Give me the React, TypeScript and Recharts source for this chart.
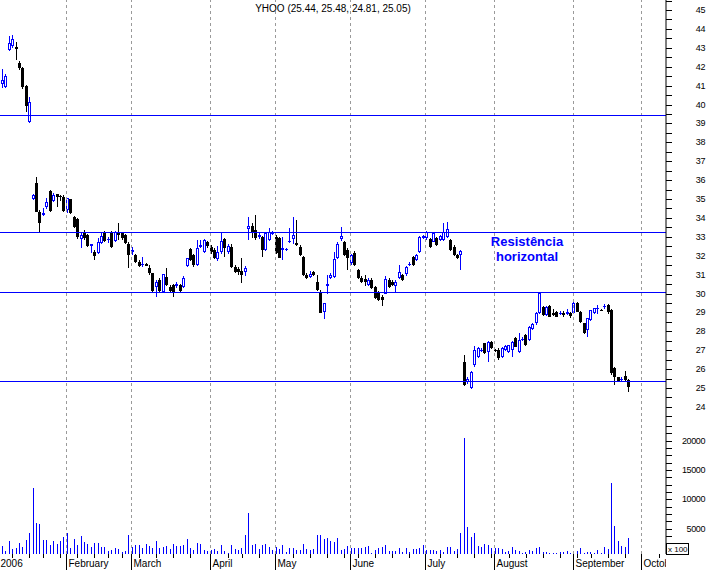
import React from "react";
import { ComposedChart, Bar, XAxis, YAxis, ReferenceLine } from "recharts";

// YHOO daily candles, Jan 3 - Sep 26 2006 (index = trading day)
const opens = [
  39.7, 41.1, 40.95, 42.9, 43.11, 43.06, 42.21, 41.95, 40.98, 39.09,
  34.98, 35.83, 34.33, 34.15, 34.56, 35.44, 34.91, 35.25, 35.18, 35.12,
  34.42, 34.98, 34.03, 33.92, 32.9, 33.27, 33.1, 32.5, 32.21, 32.16,
  32.65, 33.27, 32.82, 33.22, 32.78, 33.27, 33.18, 33.1, 32.62, 32.22,
  32.04, 31.68, 31.5, 31.56, 31.33, 31.07, 30.36, 30.71, 30.1, 30.89,
  30.36, 30.45, 30.4, 30.45, 30.36, 31.45, 32.34, 32.04, 31.5, 32.45,
  32.21, 32.7, 32.48, 32.3, 31.8, 32.2, 32.9, 32.2, 32.48, 31.42,
  31.3, 31.2, 31.15, 33.41, 33.57, 33.36, 33.0, 33.0, 32.3, 32.83,
  33.15, 33.0, 32.94, 32.3, 32.3, 32.7, 32.87, 32.69, 32.48, 31.95,
  30.98, 30.86, 31.15, 30.63, 30.1, 29.04, 30.4, 30.8, 30.86, 31.9,
  32.87, 32.74, 32.3, 31.6, 32.13, 31.24, 30.8, 30.75, 30.45, 30.71,
  30.36, 30.1, 29.83, 30.0, 30.71, 30.6, 30.4, 30.8, 30.98, 31.03,
  31.5, 31.95, 31.77, 32.21, 32.95, 32.92, 32.87, 32.74, 32.92, 32.85,
  32.83, 33.0, 32.83, 32.48, 32.04, 32.04, 26.39, 25.3, 24.98, 26.22,
  26.66, 26.95, 27.37, 26.92, 27.45, 27.0, 27.01, 26.66, 27.0, 26.92,
  27.01, 27.63, 26.92, 27.55, 27.8, 27.54, 28.1, 28.42, 28.95, 29.3,
  28.86, 29.34, 28.95, 29.04, 28.9, 28.95, 28.9, 28.95, 28.95, 29.48,
  29.04, 28.42, 28.07, 28.6, 28.95, 29.2, 29.15, 29.3, 29.39, 29.13,
  26.04, 25.57, 25.42, 25.63, 25.44,
];
const highs = [
  41.0, 41.9, 41.6, 43.6, 43.7, 43.32, 42.3, 42.0, 41.05, 40.41,
  35.25, 36.18, 34.4, 34.5, 35.04, 35.5, 35.3, 35.28, 35.2, 35.2,
  35.05, 35.0, 34.1, 34.0, 33.18, 33.35, 33.15, 32.62, 32.3, 32.92,
  33.27, 33.3, 33.0, 33.3, 33.33, 33.71, 33.27, 33.15, 32.7, 32.48,
  32.1, 31.75, 31.95, 31.6, 31.5, 31.1, 30.7, 30.8, 31.05, 31.33,
  30.45, 30.5, 30.6, 30.5, 30.93, 31.9, 32.4, 32.1, 32.83, 32.83,
  32.9, 32.8, 32.55, 32.4, 32.5, 33.2, 32.95, 32.6, 32.6, 31.5,
  31.4, 31.86, 31.45, 34.06, 33.71, 34.15, 33.2, 33.05, 33.25, 33.45,
  33.3, 33.1, 33.0, 33.0, 32.4, 33.47, 34.06, 33.9, 32.55, 32.0,
  31.1, 31.2, 31.2, 30.98, 30.2, 29.5, 30.98, 31.1, 32.2, 32.7,
  33.53, 32.8, 32.4, 32.1, 32.25, 31.3, 30.9, 31.0, 30.8, 30.8,
  30.4, 30.15, 29.9, 30.9, 30.8, 30.7, 30.7, 31.5, 31.05, 31.45,
  31.65, 32.0, 32.1, 33.05, 33.1, 33.3, 32.95, 33.2, 33.0, 33.1,
  33.71, 33.8, 32.9, 32.55, 32.1, 32.3, 26.75, 25.6, 25.9, 27.2,
  27.15, 27.1, 27.4, 27.5, 27.5, 27.05, 27.1, 27.15, 27.3, 27.3,
  27.5, 27.7, 27.9, 27.7, 27.85, 28.3, 28.45, 29.0, 30.1, 29.35,
  29.35, 29.4, 29.2, 29.1, 29.05, 29.1, 29.2, 29.0, 29.55, 29.55,
  29.1, 28.45, 28.7, 29.15, 29.25, 29.4, 29.2, 29.45, 29.45, 29.2,
  26.1, 25.6, 25.6, 25.92, 25.48,
];
const lows = [
  39.5, 40.85, 40.85, 42.85, 43.0, 42.35, 41.8, 40.8, 39.62, 39.0,
  34.95, 34.3, 33.27, 34.1, 34.46, 34.33, 34.85, 34.56, 34.9, 34.3,
  34.28, 34.2, 33.45, 32.9, 32.39, 32.85, 32.45, 32.13, 31.77, 32.1,
  32.6, 32.7, 32.69, 32.4, 32.7, 32.83, 32.83, 32.6, 31.37, 32.04,
  31.6, 31.4, 31.42, 31.45, 31.0, 30.1, 29.8, 30.1, 30.05, 30.4,
  30.1, 29.83, 30.3, 30.1, 30.3, 31.4, 31.7, 31.42, 31.45, 32.4,
  32.15, 32.4, 32.1, 31.8, 31.7, 32.1, 31.95, 32.1, 31.35, 31.1,
  31.0, 30.55, 30.9, 32.83, 32.92, 32.85, 32.9, 31.95, 32.25, 32.8,
  33.1, 32.1, 31.88, 31.77, 32.25, 32.65, 32.6, 32.5, 32.0, 30.95,
  30.75, 30.8, 30.95, 30.15, 28.95, 28.63, 29.96, 30.75, 30.8, 31.85,
  32.8, 32.0, 31.24, 31.5, 31.45, 30.75, 30.55, 30.4, 30.4, 30.25,
  29.7, 29.6, 29.34, 29.95, 30.3, 30.4, 30.1, 30.75, 30.65, 30.95,
  31.45, 31.45, 31.7, 32.15, 32.9, 32.85, 32.4, 32.7, 32.5, 32.8,
  32.8, 32.95, 32.25, 32.0, 31.8, 31.24, 25.1, 25.2, 24.95, 26.1,
  26.6, 26.9, 26.8, 26.39, 27.05, 26.9, 26.5, 26.6, 26.95, 26.85,
  26.66, 27.15, 26.85, 27.5, 27.2, 27.5, 28.05, 28.35, 28.9, 28.8,
  28.8, 28.75, 28.8, 28.75, 28.85, 28.75, 28.85, 28.7, 28.9, 29.0,
  28.45, 27.85, 27.7, 28.55, 28.9, 28.9, 29.05, 29.2, 28.9, 25.7,
  25.15, 25.3, 25.3, 25.35, 24.81,
];
const closes = [
  40.9, 41.3, 41.5, 43.27, 43.45, 42.94, 41.91, 40.94, 39.92, 40.13,
  35.21, 34.33, 33.75, 34.25, 34.86, 34.38, 35.21, 35.12, 35.14, 34.38,
  35.03, 34.24, 33.53, 33.0, 33.1, 32.92, 32.51, 32.6, 31.98, 32.74,
  33.04, 32.78, 32.9, 32.45, 33.27, 33.1, 32.92, 32.69, 32.04, 32.3,
  31.68, 31.45, 31.58, 31.48, 31.07, 30.15, 30.63, 30.15, 31.02, 30.45,
  30.15, 30.1, 30.5, 30.15, 30.8, 31.86, 31.77, 31.5, 32.4, 32.55,
  32.83, 32.5, 32.21, 31.86, 32.2, 32.8, 32.4, 32.5, 31.42, 31.15,
  31.15, 31.0, 31.33, 33.57, 33.27, 32.92, 33.1, 32.3, 33.18, 33.27,
  33.22, 32.13, 31.9, 32.4, 32.35, 32.78, 33.1, 32.57, 32.04, 30.98,
  30.8, 31.03, 30.98, 30.19, 28.95, 29.48, 30.48, 30.98, 31.81, 32.6,
  33.04, 32.04, 31.86, 32.04, 31.51, 30.8, 30.63, 30.6, 30.71, 30.28,
  29.75, 29.66, 29.66, 30.75, 30.36, 30.45, 30.63, 31.15, 30.71, 31.42,
  31.58, 31.51, 32.04, 33.0, 33.05, 33.27, 32.48, 33.18, 32.57, 33.05,
  33.27, 33.4, 32.3, 32.04, 31.86, 32.25, 25.16, 25.5, 25.86, 27.01,
  27.1, 27.0, 26.85, 27.45, 27.1, 26.95, 26.57, 27.1, 27.2, 27.28,
  27.45, 27.19, 27.54, 27.6, 27.28, 28.24, 28.4, 28.95, 30.01, 28.86,
  29.3, 28.78, 28.86, 28.78, 28.95, 28.85, 29.0, 28.8, 29.48, 29.04,
  28.51, 27.89, 28.69, 29.13, 29.22, 29.25, 29.1, 29.36, 29.04, 25.78,
  25.6, 25.39, 25.5, 25.42, 25.05,
];
// volume in hundreds of shares
const volumes = [
  2000, 2050, 1250, 2950, 1550, 1700, 2500, 1900, 3050, 4200,
  11900, 5900, 5800, 3050, 3050, 2200, 2900, 2400, 2900, 3650,
  4200, 1750, 3250, 2200, 3750, 2750, 2400, 1900, 2500, 2500,
  1900, 1900, 1250, 1400, 1700, 1550, 950, 1200, 3900, 1800,
  2200, 2200, 1750, 2400, 2100, 1750, 2900, 1750, 1950, 2050,
  1550, 2400, 2050, 2050, 2200, 3250, 1700, 1350, 2500, 2350,
  1350, 1200, 1350, 1550, 1200, 2200, 1200, 900, 2200, 1550,
  1350, 1700, 3900, 7750, 2200, 2400, 1550, 2200, 2400, 1900,
  1350, 1900, 1550, 2200, 1000, 1700, 1700, 1350, 1350, 2400,
  1550, 1350, 1550, 3900, 3900, 3250, 3450, 2900, 2800, 3450,
  1300, 1600, 2050, 1650, 1650, 1650, 1650, 1800, 2050, 900,
  1350, 1650, 1950, 2200, 1200, 1200, 1200, 1750, 1100, 1750,
  1100, 1550, 1550, 1650, 2200, 1350, 1350, 1350, 1200, 1350,
  1100, 1900, 1900, 1250, 1550, 4200, 20400, 5350, 3650, 4300,
  2050, 1950, 2400, 2200, 1750, 1750, 1750, 1550, 1100, 1250,
  1900, 1350, 1200, 900, 950, 1350, 1200, 1750, 1900, 1000,
  1000, 900, 900, 800, 1000, 1000, 1200, 900, 1000, 1200,
  1700, 800, 1100, 1000, 900, 1350, 900, 1900, 1600, 12850,
  5450, 2950, 2050, 1950, 3450,
];

const monthStarts = [0, 20, 39, 62, 81, 103, 125, 145, 168, 188];
const monthLabels = ["2006", "February", "March", "April", "May", "June", "July", "August", "September", "October"];
const weekStarts = [
  4, 9, 13, 18, 23, 28, 32, 36, 41, 46, 51, 56, 67, 71, 76, 86, 91, 96,
  101, 105, 110, 115, 120, 129, 134, 139, 144, 149, 154, 159, 164, 169,
  173, 178, 183, 193,
];
const resistanceLevels = [39.44, 33.25, 30.08, 25.37];
const priceTicks = [
  23.5, 24, 24.5, 25, 25.5, 26, 26.5, 27, 27.5, 28, 28.5, 29, 29.5, 30,
  30.5, 31, 31.5, 32, 32.5, 33, 33.5, 34, 34.5, 35, 35.5, 36, 36.5, 37,
  37.5, 38, 38.5, 39, 39.5, 40, 40.5, 41, 41.5, 42, 42.5, 43, 43.5, 44,
  44.5, 45, 45.5,
];
const volumeTicks = [
  1250, 2500, 3750, 5000, 6250, 7500, 8750, 10000, 11250, 12500, 13750,
  15000, 16250, 17500, 18750, 20000, 21250, 22500,
];

const BLUE = "#0000ff";
const FONT = "'Liberation Sans', Arial, sans-serif";
const AXIS_Y = 554;

// price panel: 18.9 px per dollar, 45 sits at y=10; x axis line at y=554
const PX_PER_DOLLAR = 18.9;
const priceDomain = [45 - 544 / PX_PER_DOLLAR, 45 + 10 / PX_PER_DOLLAR];
// volume panel: zero sits 4px below the axis line
const PX_PER_VOL = 0.005867;
const volDomain = [4 / PX_PER_VOL, 558 / PX_PER_VOL];
// x: plot runs from page x=-20 to 666, day i sits at -1.4 + 3.4226*i
const xDomain = [(-20 + 1.4) / 3.4226, (666 + 1.4) / 3.4226];

const volAsPrice = (v: number) => 45 - (558 - v * PX_PER_VOL - 10) / PX_PER_DOLLAR;
const priceAsVol = (p: number) => (558 - (10 + (45 - p) * PX_PER_DOLLAR)) / PX_PER_VOL;

const rightTicks = [...volumeTicks.map(volAsPrice), ...priceTicks];
const bottomTicks = [...monthStarts, ...weekStarts].sort((a, b) => a - b);

const data = opens.map((o, i) => ({
  i,
  o,
  h: highs[i],
  l: lows[i],
  c: closes[i],
  range: [lows[i], highs[i]],
  vol: volumes[i],
}));

function Candle(props: any) {
  const { x, y, width, height, payload } = props;
  const { o, h, l, c } = payload;
  const cx = Math.round(x + width / 2);
  const span = h - l || 1;
  const py = (v: number) => y + ((h - v) / span) * height;
  const top = Math.round(py(Math.max(o, c)));
  const bot = Math.round(py(Math.min(o, c)));
  const up = c >= o;
  const col = up ? BLUE : "#000";
  const wickTop = Math.round(y);
  const wickH = Math.max(1, Math.round(y + height) - wickTop);
  return (
    <g shapeRendering="crispEdges">
      <rect x={cx} y={wickTop} width={1} height={wickH} fill={col} />
      {up && bot - top >= 2 ? (
        <rect x={cx - 0.5} y={top + 0.5} width={2} height={bot - top - 1} fill="#fff" stroke={col} strokeWidth={1} />
      ) : (
        <rect x={cx - 1} y={top} width={3} height={Math.max(bot - top, 1)} fill={col} />
      )}
    </g>
  );
}

function VolBar(props: any) {
  const { x, y, width, height } = props;
  const cx = Math.round(x + width / 2);
  const top = Math.round(y);
  const bot = Math.round(y + height);
  return <rect x={cx} y={top} width={1} height={Math.max(0, bot - top)} fill={BLUE} shapeRendering="crispEdges" />;
}

function HLine(props: any) {
  const y = Math.round(props.y1) + 0.5;
  return <line x1={props.x1} x2={props.x2} y1={y} y2={y} stroke={props.stroke} strokeWidth={1} />;
}

function VLine(props: any) {
  const x = Math.round(props.x1) + 0.5;
  return (
    <line x1={x} x2={x} y1={props.y1} y2={props.y2} stroke={props.stroke} strokeWidth={1} strokeDasharray={props.strokeDasharray} />
  );
}

function RightTick(props: any) {
  const { x, y, payload } = props;
  const p = payload.value;
  let label = "";
  if (p > 23.2) {
    if (Math.abs(p - Math.round(p)) < 0.01 && p >= 24 && p <= 45) label = String(Math.round(p));
  } else {
    const v = Math.round(priceAsVol(p) / 1250) * 1250;
    if (v % 5000 === 0) label = String(v);
  }
  const yy = Math.round(y);
  return (
    <g>
      <rect x={x} y={yy} width={6} height={1} fill="#000" shapeRendering="crispEdges" />
      {label && (
        <text x={x + 39} y={yy} dy="0.35em" textAnchor="end" fontSize={9} fontFamily={FONT} letterSpacing={-0.4} fill="#000">
          {label}
        </text>
      )}
    </g>
  );
}

function BottomTick(props: any) {
  const { x, payload } = props;
  const m = monthStarts.indexOf(payload.value);
  const px = Math.round(x);
  if (m < 0) {
    return <rect x={px} y={AXIS_Y} width={1} height={4} fill="#000" shapeRendering="crispEdges" />;
  }
  const clipId = `month-clip-${m}`;
  return (
    <g>
      <defs>
        <clipPath id={clipId}>
          <rect x={0} y={0} width={686} height={570} />
        </clipPath>
      </defs>
      <rect x={px - 1} y={AXIS_Y} width={1} height={16} fill="#000" shapeRendering="crispEdges" />
      <text x={px + 1.5} y={AXIS_Y + 13} fontSize={10} fontFamily={FONT} fill="#000" clipPath={`url(#${clipId})`}>
        {monthLabels[m]}
      </text>
    </g>
  );
}

export default function App() {
  return (
    <div style={{ position: "absolute", left: 0, top: 0, width: 707, height: 570, overflow: "hidden", background: "#fff" }}>
      <div style={{ position: "absolute", left: -20, top: 0 }}>
        <ComposedChart width={727} height={570} data={data} margin={{ top: 0, right: 0, bottom: 0, left: 0 }}>
          <XAxis xAxisId="c" dataKey="i" type="number" domain={xDomain} allowDataOverflow hide />
          <XAxis
            xAxisId="v"
            dataKey="i"
            type="number"
            domain={xDomain}
            allowDataOverflow
            height={16}
            ticks={bottomTicks}
            interval={0}
            tick={BottomTick}
            tickLine={false}
            tickSize={0}
            tickMargin={0}
            axisLine={{ stroke: "#000" }}
          />
          <YAxis
            yAxisId="p"
            orientation="right"
            type="number"
            width={41}
            domain={priceDomain}
            allowDataOverflow
            ticks={rightTicks}
            interval={0}
            tick={RightTick}
            tickLine={false}
            tickSize={0}
            tickMargin={0}
            axisLine={{ stroke: "#000" }}
          />
          <YAxis yAxisId="v" type="number" domain={volDomain} allowDataOverflow hide />
          {monthStarts.slice(1).map((m) => (
            <ReferenceLine
              key={`g${m}`}
              xAxisId="c"
              yAxisId="p"
              x={m - 0.3}
              stroke="#9a9a9a"
              strokeDasharray="3 3"
              shape={VLine}
            />
          ))}
          {resistanceLevels.map((lv) => (
            <ReferenceLine key={`r${lv}`} xAxisId="c" yAxisId="p" y={lv} stroke={BLUE} shape={HLine} />
          ))}
          <Bar xAxisId="v" yAxisId="v" dataKey="vol" barSize={1} shape={VolBar} isAnimationActive={false} />
          <Bar xAxisId="c" yAxisId="p" dataKey="range" barSize={3} shape={Candle} isAnimationActive={false} />
        </ComposedChart>
      </div>
      <svg width={707} height={570} style={{ position: "absolute", left: 0, top: 0, pointerEvents: "none" }}>
        <text x={333} y={12} textAnchor="middle" fontSize={10} fontFamily={FONT} fill="#000">
          YHOO (25.44, 25.48, 24.81, 25.05)
        </text>
        <text x={527} y={246} textAnchor="middle" fontSize={13} fontWeight="bold" fontFamily={FONT} fill={BLUE}>
          Resistência
        </text>
        <text x={527} y={261} textAnchor="middle" fontSize={13} fontWeight="bold" fontFamily={FONT} fill={BLUE}>
          horizontal
        </text>
        <rect x={666.5} y={543.5} width={22} height={11} fill="#fff" stroke="#000" shapeRendering="crispEdges" />
        <text x={668} y={552} fontSize={8} fontFamily={FONT} fill="#000">
          x 100
        </text>
      </svg>
    </div>
  );
}
